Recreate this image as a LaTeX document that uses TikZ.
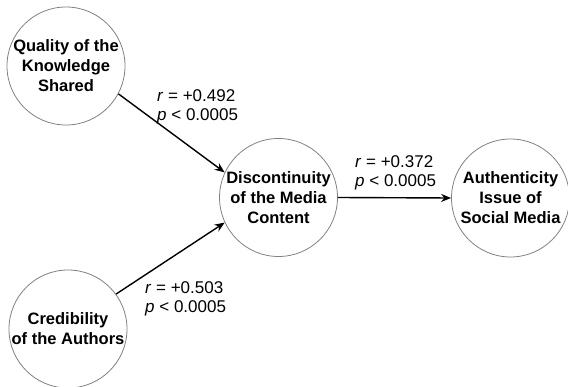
\documentclass[tikz,border=0pt]{standalone}
\usepackage{fontspec}
\setmainfont{Liberation Sans}
\usetikzlibrary{arrows.meta}
\tikzset{
  var/.style={circle, draw=black!50, line width=0.8pt, minimum size=118pt, inner sep=0pt,
    align=center, font=\fontsize{16.5}{20}\selectfont\bfseries, text=black},
  conn/.style={draw=black, line width=1.4pt, -{Stealth[length=10pt,width=8pt]}},
  stat/.style={anchor=west, align=left, inner sep=0pt, font=\fontsize{17}{19.5}\selectfont}
}
\begin{document}
\begin{tikzpicture}[x=1pt,y=-1pt]
\useasboundingbox (0,0) rectangle (568,387);
\node[var] (q) at (66,66) {Quality of the\\Knowledge\\Shared};
\node[var] (c) at (68,329) {Credibility\\of the Authors};
\node[var] (d) at (278.5,197.5) {Discontinuity\\of the Media\\Content};
\node[var] (a) at (510.5,198) {Authenticity\\Issue of\\Social Media};
\draw[conn] (q.-28.8) -- (d.155.8);
\draw[conn] (c.36.3) -- (d.205);
\draw[conn] (d.east) -- (a.west);
\node[stat] (s1) at (157,107) {\textit{r} = +0.492\\\textit{p} {<} 0.0005};
\node[stat] (s2) at (145,299) {\textit{r} = +0.503\\\textit{p} {<} 0.0005};
\node[stat] (s3) at (355,173) {\textit{r} = +0.372\\\textit{p} {<} 0.0005};
\end{tikzpicture}
\end{document}
